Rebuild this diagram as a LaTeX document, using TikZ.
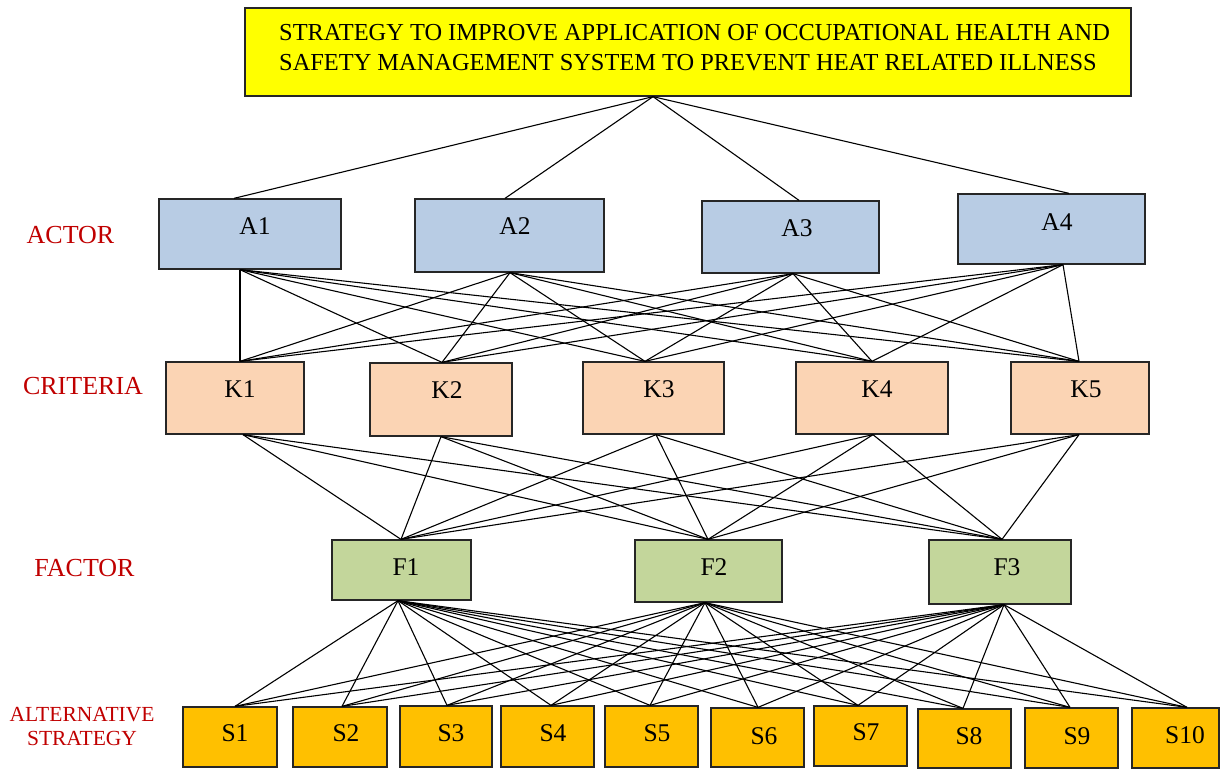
\documentclass[tikz,border=0pt]{standalone}
\usepackage{fontspec}
\setmainfont{Liberation Serif}
\definecolor{ttlc}{HTML}{FFFF00}
\definecolor{actc}{HTML}{B8CCE4}
\definecolor{crc}{HTML}{FBD4B4}
\definecolor{fcc}{HTML}{C3D69B}
\definecolor{stc}{HTML}{FFC000}
\definecolor{redl}{HTML}{C00000}
\definecolor{edgec}{HTML}{262626}
\tikzset{
  box/.style={draw=edgec, line width=1.3pt, inner sep=0pt, rectangle},
  lab/.style={inner sep=0pt, font=\fontsize{25.5}{30}\selectfont},
  side/.style={text=redl, inner sep=0pt, font=\fontsize{26}{30}\selectfont},
  con/.style={line width=1.1pt, draw=black},
}
\newcommand\mybox[9]{%
  \node[box, fill=#1, minimum width={#5pt-#3pt}, minimum height={#6pt-#4pt}] (#2) at ({(#3+#5)/2},{(#4+#6)/2}) {};
  \node[lab] (#2t) at (#7,#8) {#9};}
\begin{document}
\begin{tikzpicture}[x=1pt,y=-1pt]
\useasboundingbox (0,0) rectangle (1220,769);
% title
\node[box, fill=ttlc, minimum width=886pt, minimum height=88pt] (G) at (688,52) {};
\node[inner sep=0pt, align=left, anchor=west, font=\fontsize{24.4}{30}\selectfont] (Gt) at (279,47.5)
  {STRATEGY TO IMPROVE APPLICATION OF OCCUPATIONAL HEALTH AND\\SAFETY MANAGEMENT SYSTEM TO PREVENT HEAT RELATED ILLNESS};
% side labels
\node[side] (LA) at (70.5,235.5) {ACTOR};
\node[side] (LC) at (83,386.5) {CRITERIA};
\node[side] (LF) at (84.5,568.5) {FACTOR};
\node[text=redl, inner sep=0pt, align=center, font=\fontsize{21.5}{24}\selectfont] (LS) at (82,726) {ALTERNATIVE\\STRATEGY};
% actors
\mybox{actc}{A1}{159}{199}{341}{269}{255}{226}{A1}
\mybox{actc}{A2}{415}{199}{604}{272}{515}{226}{A2}
\mybox{actc}{A3}{702}{201}{879}{273}{797}{228}{A3}
\mybox{actc}{A4}{958}{194}{1145}{264}{1057}{222}{A4}
% criteria
\mybox{crc}{K1}{166}{362}{304}{434}{240}{389}{K1}
\mybox{crc}{K2}{370}{363}{512}{436}{447}{390}{K2}
\mybox{crc}{K3}{583}{362}{724}{434}{659}{389}{K3}
\mybox{crc}{K4}{796}{362}{948}{434}{877}{389}{K4}
\mybox{crc}{K5}{1011}{362}{1149}{434}{1086}{389}{K5}
% factors
\mybox{fcc}{F1}{332}{540}{471}{600}{406}{567}{F1}
\mybox{fcc}{F2}{635}{540}{782}{602}{714}{567}{F2}
\mybox{fcc}{F3}{929}{540}{1071}{604}{1007}{567}{F3}
% strategies
\mybox{stc}{S1}{183}{707}{277}{767}{235}{733}{S1}
\mybox{stc}{S2}{293}{707}{387}{767}{346}{733}{S2}
\mybox{stc}{S3}{400}{706}{492}{767}{451}{733}{S3}
\mybox{stc}{S4}{501}{706}{594}{767}{553}{733}{S4}
\mybox{stc}{S5}{605}{706}{698}{767}{657}{733}{S5}
\mybox{stc}{S6}{711}{708}{804}{767}{764}{736}{S6}
\mybox{stc}{S7}{814}{706}{907}{766}{866}{732}{S7}
\mybox{stc}{S8}{918}{709}{1011}{768}{969}{736}{S8}
\mybox{stc}{S9}{1025}{708}{1118}{768}{1077}{736}{S9}
\mybox{stc}{S10}{1132}{708}{1219}{768}{1185}{735}{S10}
% connection points
\coordinate (G-s) at ([xshift=-35pt]G.south);
\foreach \n/\u/\d in {A1/-16/-10, A2/-4.5/0.5, A3/8.5/2.5, A4/17.5/11.5,
                      K1/5/8, K2/1/0, K3/-8.5/2.5, K4/0/1, K5/-1/-1,
                      F1/-0.5/-3.5, F2/-0.5/-3.5, F3/2/4}{
  \coordinate (\n-n) at ([xshift=\u pt]\n.north);
  \coordinate (\n-s) at ([xshift=\d pt]\n.south);
}
\foreach \n/\u in {S1/5, S2/2, S3/1, S4/3.5, S5/-1.5, S6/0.5, S7/-2.5, S8/-1.5, S9/-1.5, S10/11.5}{
  \coordinate (\n-n) at ([xshift=\u pt]\n.north);
}
% connectors
\foreach \a in {A1,A2,A3,A4}{\draw[con] (G-s) -- (\a-n);}
\foreach \a in {A1,A2,A3,A4}{\foreach \k in {K1,K2,K3,K4,K5}{\draw[con] (\a-s) -- (\k-n);}}
\foreach \k in {K1,K2,K3,K4,K5}{\foreach \f in {F1,F2,F3}{\draw[con] (\k-s) -- (\f-n);}}
\foreach \f in {F1,F2,F3}{\foreach \s in {S1,S2,S3,S4,S5,S6,S7,S8,S9,S10}{\draw[con] (\f-s) -- (\s-n);}}
\end{tikzpicture}
\end{document}
